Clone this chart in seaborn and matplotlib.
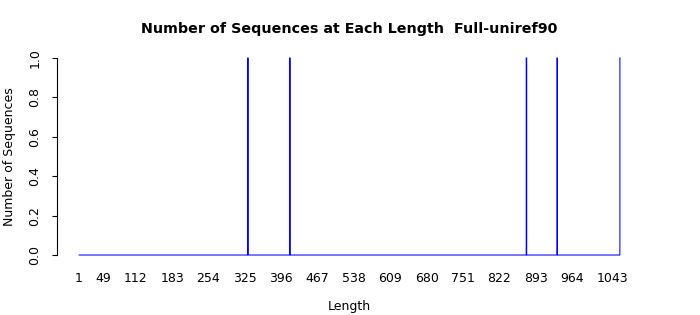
import matplotlib
matplotlib.use("Agg")
import matplotlib.pyplot as plt
import seaborn as sns
import pandas as pd
import numpy as np

# Data: sequence lengths observed (one sequence each) and the full length range
spike_lengths = [331, 413, 875, 935, 1058]
spike_counts = [1, 1, 1, 1, 1]
min_length = 1
max_length = 1058
tick_labels = [1, 49, 112, 183, 254, 325, 396, 467, 538, 609, 680, 751, 822, 893, 964, 1043]

counts = pd.Series(spike_counts, index=spike_lengths)
full_index = np.arange(min_length, max_length + 1)
df = pd.DataFrame({"Length": full_index,
                   "Count": counts.reindex(full_index, fill_value=0).values})

sns.set_theme(style="white")
plt.rcParams['font.family'] = ['DejaVu Sans']
plt.rcParams['text.color'] = 'black'
plt.rcParams['axes.labelcolor'] = 'black'

fig = plt.figure(figsize=(7.0, 3.15), dpi=100)
ax = fig.add_axes([57.3 / 700, 52.1 / 315, 584.5 / 700, 212.8 / 315])

sns.lineplot(data=df, x="Length", y="Count", ax=ax, color="#0000FF",
             linewidth=0.75, estimator=None, drawstyle="steps-mid")

span = max_length - min_length
pad = 0.04 * span
ax.set_xlim(min_length - pad, max_length + pad)
ax.set_ylim(-0.04, 1.04)

for s in ["top", "right", "bottom"]:
    ax.spines[s].set_visible(False)
ax.spines["left"].set_visible(True)
ax.spines["left"].set_bounds(0, 1)
ax.spines["left"].set_color("black")
ax.spines["left"].set_linewidth(0.8)

ax.set_xticks(tick_labels)
ax.set_xticklabels([str(t) for t in tick_labels])
ax.set_yticks([0, 0.2, 0.4, 0.6, 0.8, 1.0])
ax.set_yticklabels(["0.0", "0.2", "0.4", "0.6", "0.8", "1.0"])
ax.tick_params(axis="x", length=0, pad=6.5, labelsize=9, colors="black")
ax.tick_params(axis="y", left=True, length=3.6, width=0.8, pad=8, labelsize=9,
               colors="black")
for lab in ax.get_yticklabels():
    lab.set_rotation(90)
    lab.set_va("center")

ax.set_xlabel("Length", fontsize=9, color="black")
ax.xaxis.label.set_va("center")
ax.xaxis.set_label_coords(0.5, (263 - 307) / 212.8)
ax.set_ylabel("Number of Sequences", fontsize=9, color="black")
ax.yaxis.label.set_va("center")
ax.yaxis.set_label_coords((9.5 - 57.3) / 584.5, 0.5)

ax.set_title("Number of Sequences at Each Length  Full-uniref90",
             fontsize=10.25, fontweight="bold", color="black",
             y=(263 - 29) / 212.8, va="center", pad=0)

fig.savefig("out.png", dpi=100)
